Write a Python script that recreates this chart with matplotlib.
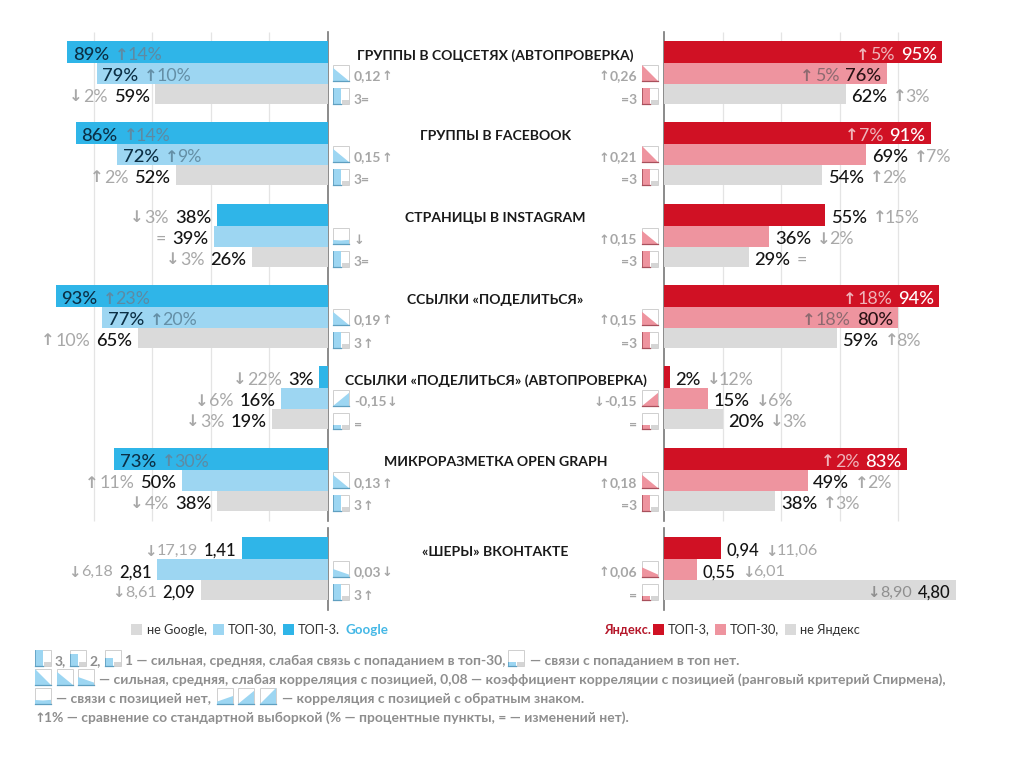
import re
import matplotlib
matplotlib.use('Agg')
import matplotlib.pyplot as plt
from matplotlib.patches import Polygon, Rectangle

plt.rcParams['font.family'] = ['Lato', 'Open Sans', 'DejaVu Sans']

titles = ['ГРУППЫ В СОЦСЕТЯХ (АВТОПРОВЕРКА)', 'ГРУППЫ В FACEBOOK', 'СТРАНИЦЫ В INSTAGRAM',
          'ССЫЛКИ «ПОДЕЛИТЬСЯ»', 'ССЫЛКИ «ПОДЕЛИТЬСЯ» (АВТОПРОВЕРКА)', 'МИКРОРАЗМЕТКА OPEN GRAPH',
          '«ШЕРЫ» ВКОНТАКТЕ']

# top-3, top-30, outside, one row per metric
google_vals = [[89, 79, 59], [86, 72, 52], [38, 39, 26], [93, 77, 65], [3, 16, 19], [73, 50, 38]]
google_delta = [['↑14%', '↑10%', '↓2%'], ['↑14%', '↑9%', '↑2%'], ['↓3%', '=', '↓3%'],
                ['↑23%', '↑20%', '↑10%'], ['↓22%', '↓6%', '↓3%'], ['↑30%', '↑11%', '↓4%']]
yandex_vals = [[95, 76, 62], [91, 69, 54], [55, 36, 29], [94, 80, 59], [2, 15, 20], [83, 49, 38]]
yandex_delta = [['↑5%', '↑5%', '↑3%'], ['↑7%', '↑7%', '↑2%'], ['↑15%', '↓2%', '='],
                ['↑18%', '↑18%', '↑8%'], ['↓12%', '↓6%', '↓3%'], ['↑2%', '↑2%', '↑3%']]

# VK shares have their own scale
google_shares = [1.41, 2.81, 2.09]
google_shares_delta = ['↓17,19', '↓6,18', '↓8,61']
yandex_shares = [0.94, 0.55, 4.80]
yandex_shares_delta = ['↓11,06', '↓6,01', '↓8,90']

# correlation icon level (negative = reversed), link icon level, captions
google_corr = [0.82, 0.82, 0, 0.82, -0.82, 0.82, 0.5]
google_corr_txt = ['0,12↑', '0,15↑', '↓', '0,19↑', '-0,15↓', '0,13↑', '0,03↓']
google_link = [3, 3, 3, 3, 0, 3, 3]
google_link_txt = ['3=', '3=', '3=', '3↑', '=', '3↑', '3↑']
yandex_corr = [1, 1, 0.82, 0.82, -0.82, 0.82, 0.6]
yandex_corr_txt = ['↑0,26', '↑0,21', '↑0,15', '↑0,15', '↓-0,15', '↑0,18', '↑0,06']
yandex_link = [3, 3, 3, 3, 0, 3, 0]
yandex_link_txt = ['=3', '=3', '=3', '=3', '=', '=3', '=']

BLUE, LBLUE = '#2fb5e8', '#9dd6f2'
RED, PINK = '#d01124', '#ee949f'
GREY = '#dadada'
DARK = '#141414'
DELTA = '#a8a8a8'
BLUE_EDGE, RED_EDGE = '#5f9fc0', '#a8505c'

group_tops = [41, 122, 204, 285, 366, 448, 537]
row_pos = [(0, 22), (22, 20.5), (42.5, 20.5)]

fig = plt.figure(figsize=(10.24, 7.6), dpi=100)
page = fig.add_axes([0, 0, 1, 1])
page.set_xlim(0, 1024)
page.set_ylim(760, 0)
page.axis('off')


def make_axes(x0, xlim):
    ax = fig.add_axes([x0 / 1024, 0, 293 / 1024, 1])
    ax.set_xlim(*xlim)
    ax.set_ylim(760, 0)
    ax.axis('off')
    ax.patch.set_alpha(0)
    return ax


left = make_axes(35, (100, 0))
right = make_axes(664, (0, 100))
left_sh = make_axes(35, (4.82, 0))
right_sh = make_axes(664, (0, 4.82))

for ax in (left, right):
    ax.vlines([20, 40, 60, 80], 32, 521, color='#e4e4e4', lw=0.9, zorder=0)

for x in (328, 664):
    page.plot([x, x], [32, 521], color='#777777', lw=1.2, zorder=5)
    page.plot([x, x], [528, 610], color='#777777', lw=1.2, zorder=5)


def draw_runs(ax, x, y, s, start, flow, color, size, weight='normal', dy=-1.5):
    # numbers in Lato, arrows heavy from DejaVu; returns the pixel offset reached
    parts = [p for p in re.split('([↑↓])', s) if p]
    if flow < 0:
        parts = parts[::-1]
    ha = 'left' if flow > 0 else 'right'
    off = start
    for p in parts:
        if p in '↑↓':
            t = ax.annotate(p, (x, y), xytext=(off, dy), textcoords='offset pixels', ha=ha,
                            va='center_baseline', fontsize=size * 0.92, color=color,
                            family='DejaVu Sans', fontweight='bold', zorder=6)
            gap = -1.5
        else:
            t = ax.annotate(p, (x, y), xytext=(off, dy), textcoords='offset pixels', ha=ha,
                            va='center_baseline', fontsize=size, color=color, fontweight=weight, zorder=6)
            gap = 0.5
        off += flow * (t.get_window_extent(fig.canvas.get_renderer()).width + gap)
    return off


def draw_group(ax, vals, deltas, top, colors, side, thresh, fmt, inside_colors, size=13.2):
    for i, (v, d) in enumerate(zip(vals, deltas)):
        off, h = row_pos[i]
        yc = top + off + h / 2
        ax.barh(yc, v, height=h, color=colors[i], zorder=2)
        inside = v >= thresh
        flow = side if inside else -side
        vc, dc = inside_colors[i] if inside else (DARK, DELTA)
        end = draw_runs(ax, v, yc, fmt(v), flow * 5.5, flow, vc, size, weight='medium')
        draw_runs(ax, v, yc, d, end + flow * 5.5, flow, dc, size - 0.4)


pct = lambda v: f'{v}%'
dec = lambda v: f'{v:.2f}'.replace('.', ',')
g_in = [('#0b2f45', '#5e8aa3'), ('#0b2f45', '#648fa6'), (DARK, '#8f8f8f')]
y_in = [('#ffffff', '#efb4ba'), ('#2a1215', '#8d6a70'), (DARK, '#8f8f8f')]

for g in range(6):
    draw_group(left, google_vals[g], google_delta[g], group_tops[g], [BLUE, LBLUE, GREY], 1, 70, pct, g_in)
    draw_group(right, yandex_vals[g], yandex_delta[g], group_tops[g], [RED, PINK, GREY], -1, 70, pct, y_in)
draw_group(left_sh, google_shares, google_shares_delta, group_tops[6], [BLUE, LBLUE, GREY], 1, 3, dec, g_in, size=12)
draw_group(right_sh, yandex_shares, yandex_shares_delta, group_tops[6], [RED, PINK, GREY], -1, 3, dec, y_in, size=12)


def icon_box(x, y, s=16):
    page.add_patch(Rectangle((x, y), s, s, fc='white', ec='#cfcfcf', lw=0.7, zorder=3))


def corr_icon(x, y, level, col, edge, s=16):
    icon_box(x, y, s)
    if level == 0:
        pts = [(x, y + s), (x, y + s * 0.75), (x + s / 2, y + s * 0.78), (x + s, y + s * 0.74), (x + s, y + s)]
    elif level > 0:
        pts = [(x, y + s), (x, y + s * (1 - level)), (x + s, y + s * (0.85 if level < 0.7 else 1)), (x + s, y + s)]
    else:
        lv = -level
        pts = [(x, y + s), (x, y + s * (0.85 if lv < 0.7 else 1)), (x + s, y + s * (1 - lv)), (x + s, y + s)]
    page.add_patch(Polygon(pts, fc=col, ec='none', zorder=4))
    page.plot([x, x + s], [y + s, y + s], color=edge, lw=0.9, zorder=4)


def link_icon(x, y, level, col, edge, s=16):
    icon_box(x, y, s)
    h = {3: 1, 2: 0.75, 1: 0.5, 0: 0.25}[level] * s
    page.add_patch(Rectangle((x, y + s - h), s * 0.48, h, fc=col, ec='none', zorder=4))
    gh = s * 0.28
    page.add_patch(Rectangle((x + s * 0.56, y + s - gh), s * 0.44, gh, fc='#d5d5d5', ec='none', zorder=4))
    page.plot([x, x + s * 0.48], [y + s, y + s], color=edge, lw=0.9, zorder=4)
    page.plot([x, x], [y + s - h, y + s], color=edge, lw=0.6, zorder=4)


CAP = '#a6a6a6'
for g, top in enumerate(group_tops):
    page.text(495.5, top + 14.5, titles[g], ha='center', va='center', fontsize=10.1, color='#1a1a1a',
              fontweight='bold', zorder=6)
    ya, yb = top + 24, top + 47
    corr_icon(333, ya, google_corr[g], LBLUE, BLUE_EDGE)
    link_icon(333, yb, google_link[g], LBLUE, BLUE_EDGE)
    corr_icon(642, ya, yandex_corr[g], PINK, RED_EDGE)
    link_icon(642, yb, yandex_link[g], PINK, RED_EDGE)
    draw_runs(page, 354, ya + 9, google_corr_txt[g], 0, 1, CAP, 10, weight='bold')
    draw_runs(page, 354, yb + 9, google_link_txt[g], 0, 1, CAP, 10, weight='bold')
    draw_runs(page, 637, ya + 9, yandex_corr_txt[g], 0, -1, CAP, 10, weight='bold')
    draw_runs(page, 637, yb + 9, yandex_link_txt[g], 0, -1, CAP, 10, weight='bold')

# legends
LEG = '#333333'
for x, c in [(131, GREY), (213, LBLUE), (283, BLUE), (653, RED), (715, PINK), (785, GREY)]:
    page.add_patch(Rectangle((x, 624), 11, 11, fc=c, ec='none'))
for x, s in [(147, 'не Google,'), (228, 'ТОП-30,'), (298, 'ТОП-3.'), (668, 'ТОП-3,'), (730, 'ТОП-30,'), (800, 'не Яндекс')]:
    page.text(x, 629.5, s, ha='left', va='center', fontsize=9.2, color=LEG)
page.text(345, 629.5, 'Google', ha='left', va='center', fontsize=9.6, color='#45b8e6', fontweight='bold')
page.text(604, 629.5, 'Яндекс.', ha='left', va='center', fontsize=9.2, color='#b5172a', fontweight='bold')

# footnotes
FOOT = '#8e8e8e'
FOOT_SIZE = 10
def foot(x, y, s):
    if '↑' in s:
        draw_runs(page, x, y, s, 0, 1, FOOT, FOOT_SIZE, weight='bold', dy=0)
    else:
        page.text(x, y, s, ha='left', va='center', fontsize=FOOT_SIZE, color=FOOT, fontweight='bold')

link_icon(35, 650, 3, LBLUE, BLUE_EDGE)
foot(55, 661, '3,')
link_icon(70, 650, 2, LBLUE, BLUE_EDGE)
foot(89, 661, '2,')
link_icon(105, 650, 1, LBLUE, BLUE_EDGE)
foot(125, 661, '1 — сильная, средняя, слабая связь с попаданием в топ-30,')
link_icon(508, 650, 0, LBLUE, BLUE_EDGE)
foot(530, 661, '— связи с попаданием в топ нет.')
for x, lv in [(35, 1), (57, 0.82), (78, 0.5)]:
    corr_icon(x, 669, lv, LBLUE, BLUE_EDGE)
foot(99, 680, '— сильная, средняя, слабая корреляция с позицией, 0,08 — коэффициент корреляции с позицией (ранговый критерий Спирмена),')
corr_icon(35, 688, 0, LBLUE, BLUE_EDGE)
foot(56, 699, '— связи с позицией нет,')
for x, lv in [(217, -0.5), (238, -0.82), (260, -1)]:
    corr_icon(x, 688, lv, LBLUE, BLUE_EDGE)
foot(282, 699, '— корреляция с позицией с обратным знаком.')
foot(35, 717, '↑1% — сравнение со стандартной выборкой (% — процентные пункты, = — изменений нет).')

fig.savefig('out.png', dpi=100, facecolor='white')
